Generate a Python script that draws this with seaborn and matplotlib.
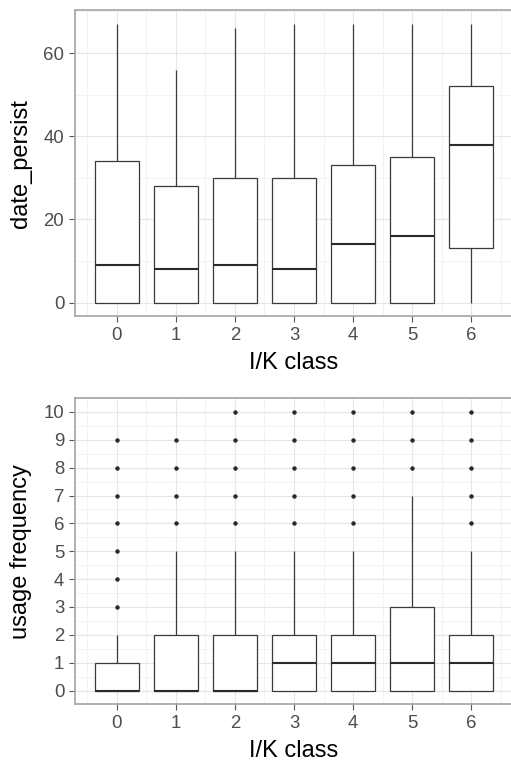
import numpy as np
import pandas as pd
import matplotlib
matplotlib.use("Agg")
import matplotlib.pyplot as plt
from matplotlib.ticker import MultipleLocator
import seaborn as sns

# ---------------- data ----------------
classes = [0, 1, 2, 3, 4, 5, 6]
class_labels = ["0", "1", "2", "3", "4", "5", "6"]

# date_persist: five-number summaries (min, q1, median, q3, max)
persist_min = [0, 0, 0, 0, 0, 0, 0]
persist_q1 = [0, 0, 0, 0, 0, 0, 13]
persist_median = [9, 8, 9, 8, 14, 16, 38]
persist_q3 = [34, 28, 30, 30, 33, 35, 52]
persist_max = [67, 56, 66, 67, 67, 67, 67]

# usage frequency: counts of observations at each value 0..10 per class
usage_values = [0, 1, 2, 3, 4, 5, 6, 7, 8, 9, 10]
usage_counts_0 = [17, 8, 1, 1, 1, 1, 1, 1, 1, 1, 0]
usage_counts_1 = [17, 4, 5, 1, 1, 1, 1, 1, 1, 1, 0]
usage_counts_2 = [17, 4, 4, 1, 1, 1, 1, 1, 1, 1, 1]
usage_counts_3 = [9, 8, 8, 1, 1, 1, 1, 1, 1, 1, 1]
usage_counts_4 = [9, 8, 8, 1, 1, 1, 1, 1, 1, 1, 1]
usage_counts_5 = [9, 8, 4, 5, 1, 1, 1, 1, 1, 1, 1]
usage_counts_6 = [9, 8, 8, 1, 1, 1, 1, 1, 1, 1, 1]
usage_counts = [usage_counts_0, usage_counts_1, usage_counts_2, usage_counts_3,
                usage_counts_4, usage_counts_5, usage_counts_6]

# ---------------- tables ----------------
rows = []
for c, a, b, m, d, e in zip(class_labels, persist_min, persist_q1, persist_median,
                            persist_q3, persist_max):
    for v in (a, b, m, d, e):
        rows.append((c, v))
df_persist = pd.DataFrame(rows, columns=["cls", "date_persist"])

rows = []
for c, counts in zip(class_labels, usage_counts):
    for v, n in zip(usage_values, counts):
        rows.extend([(c, v)] * n)
df_usage = pd.DataFrame(rows, columns=["cls", "usage"])

# ---------------- style ----------------
sns.set_theme(style="white")
plt.rcParams["font.family"] = ["Liberation Sans", "DejaVu Sans"]

LINE = "#3A3A3A"
fig = plt.figure(figsize=(5.11, 7.68), dpi=100)
ax1 = fig.add_axes([0.1462, 0.5879, 0.8583, 0.3991])
ax2 = fig.add_axes([0.1462, 0.0827, 0.8583, 0.3991])

box_kw = dict(order=class_labels, color="white", linecolor=LINE, linewidth=0.9,
              width=0.75, whis=1.5, showcaps=False, saturation=1,
              medianprops=dict(color="#2A2A2A", linewidth=1.5),
              flierprops=dict(marker="o", markersize=3.2, markerfacecolor="#2A2A2A",
                              markeredgecolor="#2A2A2A", markeredgewidth=0))

sns.boxplot(data=df_persist, x="cls", y="date_persist", ax=ax1, **box_kw)
sns.boxplot(data=df_usage, x="cls", y="usage", ax=ax2, **box_kw)


def style(ax, ylim, major, minor, ylabel):
    ax.set_xlim(-0.7125, 6.7125)
    ax.set_ylim(*ylim)
    ax.yaxis.set_major_locator(MultipleLocator(major))
    ax.yaxis.set_minor_locator(MultipleLocator(minor))
    ax.set_xticks(classes)
    ax.set_xticklabels(class_labels)
    ax.set_xticks([c + 0.5 for c in [-1] + classes], minor=True)
    ax.set_axisbelow(True)
    ax.grid(which="major", color="#E6E6E6", linewidth=0.8)
    ax.grid(which="minor", color="#F1F1F1", linewidth=0.6)
    ax.set_facecolor("white")
    for name, s in ax.spines.items():
        s.set_visible(name != "right")
        s.set_color("#AAAAAA")
        s.set_linewidth(1.3)
    ax.tick_params(which="major", axis="both", length=4, width=0.8, color="#555555",
                   labelsize=13.4, labelcolor="#4D4D4D", pad=3.5,
                   bottom=True, left=True)
    ax.tick_params(which="minor", length=0, bottom=False, left=False)
    ax.set_xlabel("I/K class", fontsize=17, color="black", labelpad=6)
    ax.set_ylabel(ylabel, fontsize=17, color="black", labelpad=8)


style(ax1, (-3.35, 70.35), 20, 10, "date_persist")
style(ax2, (-0.5, 10.5), 1, 0.5, "usage frequency")

fig.savefig("out.png", dpi=100)
